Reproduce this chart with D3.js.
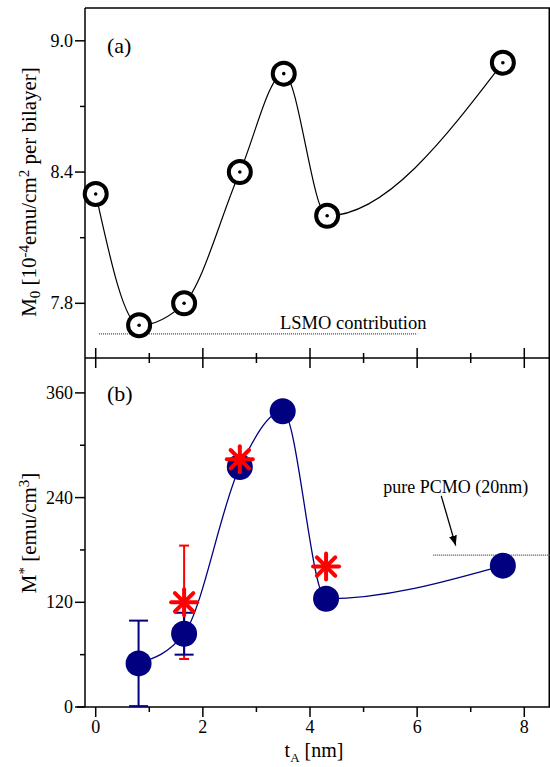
<!DOCTYPE html>
<meta charset="utf-8">
<style>
body { margin: 0; background: #fff; }
text { font-family: "Liberation Serif", "Times New Roman", serif; fill: #000; }
.ax { stroke: #000; stroke-width: 1.5px; fill: none; }
</style>
<body>
<script src="https://cdn.jsdelivr.net/npm/d3@7"></script>
<script>

var width = 550, height = 767;

// top panel (a): M0 per bilayer
var tA = [0, 0.81, 1.65, 2.69, 3.51, 4.32, 7.6];
var m0 = [8.30, 7.70, 7.80, 8.40, 8.85, 8.20, 8.90];
var lsmoLevel = 7.66, lsmoRange = [0.06, 6.0];

// bottom panel (b): M* blue circles and red stars
var tB = [0.8, 1.65, 2.69, 3.49, 4.3, 7.6];
var mStar = [50, 84, 275, 339, 124, 162];
var mStarErr = [49, 24, null, null, null, null];
var tR = [1.65, 2.69, 4.3];
var mRed = [120, 284, 161];
var mRedErr = [65, null, null];
var pcmoLevel = 174, pcmoStart = 6.3;

var xTicks = [0, 2, 4, 6, 8], xMinor = [1, 3, 5, 7];
var yaTicks = [7.8, 8.4, 9.0], yaMinor = [8.1, 8.7];
var ybTicks = [0, 120, 240, 360], ybMinor = [60, 180, 300];

var x = d3.scaleLinear().domain([-0.2, 8.48]).range([85, 550]);
var ya = d3.scaleLinear().domain([7.55, 9.15]).range([358, 8]);
var yb = d3.scaleLinear().domain([0, 400]).range([707, 358]);

var svg = d3.select("body").append("svg")
    .attr("width", width)
    .attr("height", height);

// frame lines
svg.append("line").attr("class", "ax")
  .attr("x1", x.range()[0]).attr("x2", 550).attr("y1", ya.range()[1]).attr("y2", ya.range()[1]);
svg.append("line").attr("class", "ax")
  .attr("x1", x.range()[0]).attr("x2", x.range()[0]).attr("y1", ya.range()[1]).attr("y2", yb.range()[0]);
svg.append("line").attr("class", "ax")
  .attr("x1", 549.25).attr("x2", 549.25).attr("y1", ya.range()[1]).attr("y2", yb.range()[0]);
svg.append("line").attr("class", "ax")
  .attr("x1", x.range()[0]).attr("x2", 550).attr("y1", ya.range()[0]).attr("y2", ya.range()[0]);
svg.append("line").attr("class", "ax")
  .attr("x1", x.range()[0] - 8).attr("x2", 550).attr("y1", yb.range()[0]).attr("y2", yb.range()[0]);

// middle x axis: ticks crossing
var mid = ya.range()[0];
xTicks.forEach(function(t){
  svg.append("line").attr("class", "ax").attr("x1", x(t)).attr("x2", x(t)).attr("y1", mid - 10).attr("y2", mid + 10);
});
xMinor.forEach(function(t){
  svg.append("line").attr("class", "ax").attr("x1", x(t)).attr("x2", x(t)).attr("y1", mid - 5).attr("y2", mid + 5);
});

// bottom x axis
var bot = yb.range()[0];
xTicks.forEach(function(t){
  svg.append("line").attr("class", "ax").attr("x1", x(t)).attr("x2", x(t)).attr("y1", bot).attr("y2", bot + 10);
  svg.append("text").attr("x", x(t)).attr("y", bot + 26).attr("text-anchor", "middle")
    .style("font-size", "18px").text(t);
});
xMinor.forEach(function(t){
  svg.append("line").attr("class", "ax").attr("x1", x(t)).attr("x2", x(t)).attr("y1", bot).attr("y2", bot + 5);
});

// y axes
function yAxis(scale, ticks, minor, fmt) {
  var x0 = x.range()[0];
  ticks.forEach(function(t){
    svg.append("line").attr("class", "ax").attr("x1", x0 - 10).attr("x2", x0).attr("y1", scale(t)).attr("y2", scale(t));
    svg.append("text").attr("x", x0 - 12).attr("y", scale(t) + 6).attr("text-anchor", "end")
      .style("font-size", "18px").text(fmt(t));
  });
  minor.forEach(function(t){
    svg.append("line").attr("class", "ax").attr("x1", x0 - 5).attr("x2", x0).attr("y1", scale(t)).attr("y2", scale(t));
  });
}
yAxis(ya, yaTicks, yaMinor, d3.format(".1f"));
yAxis(yb, ybTicks, ybMinor, d3.format("d"));

// axis titles
var t1 = svg.append("text").attr("transform", "translate(36,192) rotate(-90)")
  .attr("text-anchor", "middle").style("font-size", "21px");
t1.append("tspan").text("M");
t1.append("tspan").attr("baseline-shift", "-25%").style("font-size", "15px").text("0");
t1.append("tspan").text(" [10");
t1.append("tspan").attr("baseline-shift", "45%").style("font-size", "15px").text("-4");
t1.append("tspan").text("emu/cm");
t1.append("tspan").attr("baseline-shift", "45%").style("font-size", "15px").text("2");
t1.append("tspan").text(" per bilayer]");

var t2 = svg.append("text").attr("transform", "translate(36,533) rotate(-90)")
  .attr("text-anchor", "middle").style("font-size", "21px");
t2.append("tspan").text("M");
t2.append("tspan").attr("baseline-shift", "45%").style("font-size", "15px").text("*");
t2.append("tspan").text(" [emu/cm");
t2.append("tspan").attr("baseline-shift", "45%").style("font-size", "15px").text("3");
t2.append("tspan").text("]");

var t3 = svg.append("text").attr("x", 314).attr("y", 757).attr("text-anchor", "middle").style("font-size", "20px");
t3.append("tspan").text("t");
t3.append("tspan").attr("baseline-shift", "-35%").style("font-size", "13px").text("A");
t3.append("tspan").text(" [nm]");

svg.append("text").attr("x", 107).attr("y", 53).style("font-size", "22px").text("(a)");
svg.append("text").attr("x", 107).attr("y", 401).style("font-size", "22px").text("(b)");

// panel (a)
var topData = tA.map(function(t, i){ return {x: t, y: m0[i]}; });
svg.append("line")
  .attr("x1", x(lsmoRange[0])).attr("x2", x(lsmoRange[1]))
  .attr("y1", ya(lsmoLevel)).attr("y2", ya(lsmoLevel))
  .attr("stroke", "#444").attr("stroke-width", 1.2).attr("stroke-dasharray", "1,1");
svg.append("text").attr("x", x(3.44)).attr("y", ya(lsmoLevel) - 5)
  .style("font-size", "18.5px").text("LSMO contribution");

var lineA = d3.line().x(function(d){ return x(d.x); }).y(function(d){ return ya(d.y); })
  .curve(d3.curveMonotoneX);
svg.append("path").datum(topData).attr("d", lineA)
  .attr("fill", "none").attr("stroke", "#000").attr("stroke-width", 1.2);

svg.selectAll(".ca").data(topData).enter().append("circle")
  .attr("cx", function(d){ return x(d.x); }).attr("cy", function(d){ return ya(d.y); })
  .attr("r", 11).attr("fill", "#fff").attr("stroke", "#000").attr("stroke-width", 4);
svg.selectAll(".da").data(topData).enter().append("circle")
  .attr("cx", function(d){ return x(d.x); }).attr("cy", function(d){ return ya(d.y); })
  .attr("r", 1.8).attr("fill", "#000");

// panel (b)
var blue = "#000080", red = "#ff0000";
var blueData = tB.map(function(t, i){ return {x: t, y: mStar[i], e: mStarErr[i]}; });
var redData = tR.map(function(t, i){ return {x: t, y: mRed[i], e: mRedErr[i]}; });

svg.append("line")
  .attr("x1", x(pcmoStart)).attr("x2", 550)
  .attr("y1", yb(pcmoLevel)).attr("y2", yb(pcmoLevel))
  .attr("stroke", "#444").attr("stroke-width", 1.2).attr("stroke-dasharray", "1,1");
svg.append("text").attr("x", x(6.3) - 50).attr("y", yb(245))
  .style("font-size", "18px").text("pure PCMO (20nm)");

svg.append("defs").append("marker").attr("id", "arr")
  .attr("viewBox", "0 0 10 10").attr("refX", 10).attr("refY", 5)
  .attr("markerWidth", 10).attr("markerHeight", 10).attr("markerUnits", "userSpaceOnUse")
  .attr("orient", "auto")
  .append("path").attr("d", "M0,1 L10,5 L0,9 Z").attr("fill", "#000");
svg.append("line")
  .attr("x1", x(6.45)).attr("y1", yb(242)).attr("x2", x(6.72)).attr("y2", yb(185))
  .attr("stroke", "#000").attr("stroke-width", 1.3).attr("marker-end", "url(#arr)");

function errBars(data, color, cap) {
  data.filter(function(d){ return d.e != null; }).forEach(function(d){
    var cx = x(d.x);
    svg.append("line").attr("x1", cx).attr("x2", cx).attr("y1", yb(d.y - d.e)).attr("y2", yb(d.y + d.e))
      .attr("stroke", color).attr("stroke-width", 2);
    [d.y - d.e, d.y + d.e].forEach(function(v){
      svg.append("line").attr("x1", cx - cap).attr("x2", cx + cap).attr("y1", yb(v)).attr("y2", yb(v))
        .attr("stroke", color).attr("stroke-width", 2);
    });
  });
}
errBars(redData, red, 5);
errBars(blueData, blue, 9.5);

var lineB = d3.line().x(function(d){ return x(d.x); }).y(function(d){ return yb(d.y); })
  .curve(d3.curveMonotoneX);
svg.append("path").datum(blueData).attr("d", lineB)
  .attr("fill", "none").attr("stroke", blue).attr("stroke-width", 1.3);

svg.selectAll(".cb").data(blueData).enter().append("circle")
  .attr("cx", function(d){ return x(d.x); }).attr("cy", function(d){ return yb(d.y); })
  .attr("r", 13).attr("fill", blue);

var arm = 13;
redData.forEach(function(d){
  var g = svg.append("g").attr("transform", "translate(" + x(d.x) + "," + yb(d.y) + ")");
  [0, 45, 90, 135].forEach(function(a){
    var r = a * Math.PI / 180;
    g.append("line")
      .attr("x1", -arm * Math.cos(r)).attr("y1", -arm * Math.sin(r))
      .attr("x2", arm * Math.cos(r)).attr("y2", arm * Math.sin(r))
      .attr("stroke", red).attr("stroke-width", 4).attr("stroke-linecap", "round");
  });
});

</script>
